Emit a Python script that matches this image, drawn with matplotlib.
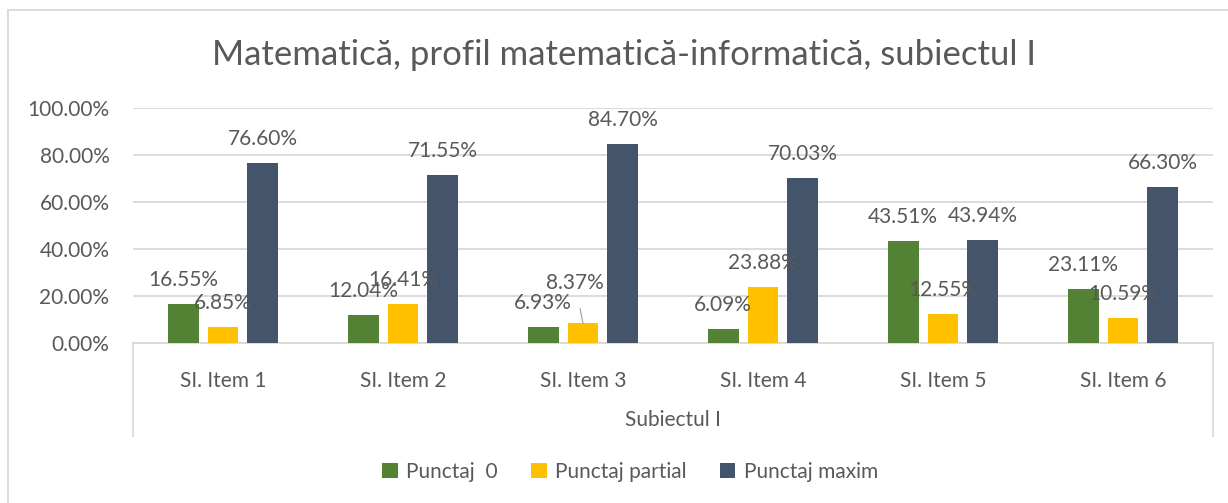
import numpy as np
import matplotlib
matplotlib.use("Agg")
import matplotlib.pyplot as plt
from matplotlib.lines import Line2D

plt.rcParams['font.family'] = ['Lato', 'DejaVu Sans']

# data
items = ['SI. Item 1', 'SI. Item 2', 'SI. Item 3', 'SI. Item 4', 'SI. Item 5', 'SI. Item 6']
punctaj_0 = [16.55, 12.04, 6.93, 6.09, 43.51, 23.11]
punctaj_partial = [6.85, 16.41, 8.37, 23.88, 12.55, 10.59]
punctaj_maxim = [76.60, 71.55, 84.70, 70.03, 43.94, 66.30]
series_names = ['Punctaj  0', 'Punctaj partial', 'Punctaj maxim']
title = 'Matematică, profil matematică-informatică, subiectul I'
group_label = 'Subiectul I'

colors = ['#548235', '#FFC000', '#44546A']
txt = '#595959'
grid = '#D9D9D9'

W, H = 1228, 503
fig = plt.figure(figsize=(W / 100, H / 100), dpi=100)

# plot area in pixels
L, R, T, B = 133, 1213, 108, 343
ax = fig.add_axes([L / W, 1 - B / H, (R - L) / W, (B - T) / H])

x = np.arange(len(items))
bw = 0.172
step = 0.222
all_series = [punctaj_0, punctaj_partial, punctaj_maxim]
for k, vals in enumerate(all_series):
    pos = x + (k - 1) * step
    ax.bar(pos, vals, width=bw, color=colors[k], label=series_names[k], zorder=3)
    for i, v in enumerate(vals):
        if k == 1 and i == 2:
            # moved label with leader line
            ax.annotate('%.2f%%' % v, xy=(pos[i], v), xytext=(-8, 40),
                        textcoords='offset pixels', ha='center', va='center',
                        fontsize=15, color=txt, zorder=5,
                        arrowprops=dict(arrowstyle='-', color='#A6A6A6', lw=0.9,
                                        shrinkA=9, shrinkB=0))
        else:
            ax.annotate('%.2f%%' % v, xy=(pos[i], v), xytext=(0, 24),
                        textcoords='offset pixels', ha='center', va='center',
                        fontsize=15, color=txt, zorder=5)

ax.set_xlim(-0.5, len(items) - 0.5)
ax.set_ylim(0, 100)
ax.set_yticks(np.arange(0, 101, 20))
ax.set_yticklabels(['%.2f%%' % t for t in np.arange(0, 101, 20)], fontsize=15, color=txt)
ax.yaxis.grid(True, color=grid, lw=1.3, zorder=0)
ax.set_axisbelow(True)
ax.tick_params(axis='y', length=0, pad=17)
ax.set_xticks(x)
ax.set_xticklabels(items, fontsize=15, color=txt)
ax.tick_params(axis='x', length=0, pad=20)
for s in ['top', 'right', 'left']:
    ax.spines[s].set_visible(False)
ax.spines['bottom'].set_color(grid)
ax.spines['bottom'].set_linewidth(1.3)

# multi-level category box
box_depth = (436 - B) / (B - T)
for xa in [0, 1]:
    ax.add_line(Line2D([xa, xa], [0, -box_depth], transform=ax.transAxes,
                       color=grid, lw=1.3, clip_on=False))
ax.text(0.5, -(420 - B) / (B - T), group_label, transform=ax.transAxes,
        ha='center', va='center', fontsize=15, color=txt)

fig.text(624 / W, 1 - 55 / H, title, ha='center', va='center', fontsize=25, color=txt)

leg = fig.legend(loc='center', bbox_to_anchor=(630 / W, 1 - 472 / H), ncol=3,
                 frameon=False, fontsize=15, handlelength=0.75, handleheight=0.75,
                 handletextpad=0.4, columnspacing=1.6, labelcolor=txt)

# chart border (left and top edges visible)
fig.add_artist(Line2D([8 / W, 8 / W], [0, 1 - 10 / H], color=grid, lw=1.3))
fig.add_artist(Line2D([8 / W, 1], [1 - 10 / H, 1 - 10 / H], color=grid, lw=1.3))

fig.savefig('out.png', dpi=100)
